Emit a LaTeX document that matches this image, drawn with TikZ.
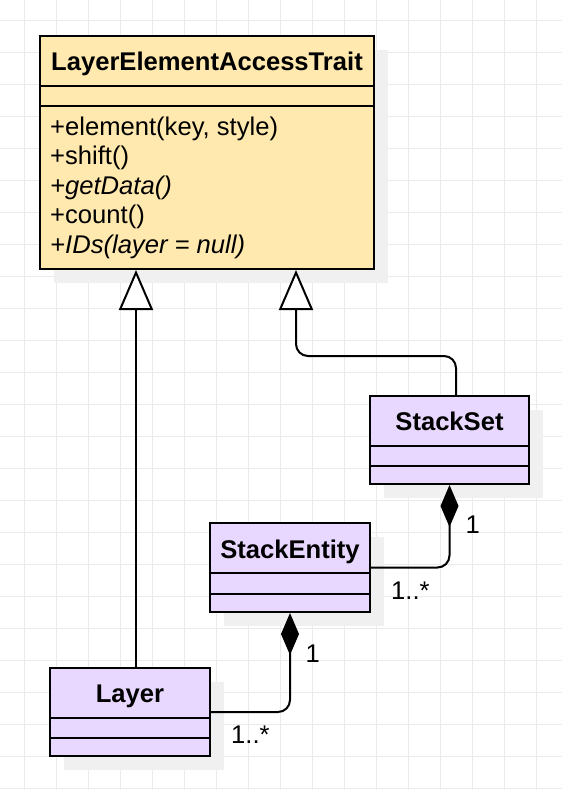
\documentclass[tikz,border=0pt]{standalone}
\usepackage{fontspec}
\setmainfont{Liberation Sans}
\usetikzlibrary{arrows.meta,shadows}
\definecolor{traitfill}{HTML}{FFE9AE}
\definecolor{classfill}{HTML}{E8D8FF}
\definecolor{shadowc}{HTML}{F0F0F0}
\definecolor{gridc}{HTML}{EBEBEB}
\begin{document}
\begin{tikzpicture}[x=1pt,y=-1pt,
  classbox/.style={draw=black, line width=2pt, inner sep=0pt,
    general shadow={fill=shadowc, shadow xshift=14pt, shadow yshift=-14pt}},
  divider/.style={line width=2pt},
  titletext/.style={font=\fontsize{25.6}{29.6}\selectfont\bfseries, inner sep=0pt, anchor=base},
  member/.style={font=\fontsize{25.6}{29.6}\selectfont, inner sep=0pt, anchor=base west},
  mult/.style={font=\fontsize{25.6}{29.6}\selectfont, inner sep=0pt, anchor=base west},
  gen/.style={line width=2pt, -{Triangle[length=40pt, width=34pt, fill=white]}},
  comp/.style={line width=2pt, {Diamond[length=42pt, width=18pt]}-, rounded corners=12pt},
]
\useasboundingbox (0,0) rectangle (562,790);
\fill[white] (0,0) rectangle (562,790);
\foreach \gx in {24.3,56.3,...,560} \draw[gridc, line width=1pt] (\gx,0) -- (\gx,790);
\foreach \gy in {20,52,...,790} \draw[gridc, line width=1pt] (0,\gy) -- (562,\gy);

% class boxes
\node[classbox, fill=traitfill, minimum width=334pt, minimum height=233pt] (trait) at (207,152.5) {};
\node[classbox, fill=classfill, minimum width=159pt, minimum height=88pt] (stackset) at (449.5,440) {};
\node[classbox, fill=classfill, minimum width=160pt, minimum height=89pt] (stackentity) at (290,567.5) {};
\node[classbox, fill=classfill, minimum width=160pt, minimum height=88pt] (layer) at (130,712) {};

% compartments
\draw[divider] (trait.west |- 0,86) -- (trait.east |- 0,86);
\draw[divider] (trait.west |- 0,106) -- (trait.east |- 0,106);
\draw[divider] (stackset.west |- 0,446) -- (stackset.east |- 0,446);
\draw[divider] (stackset.west |- 0,466) -- (stackset.east |- 0,466);
\draw[divider] (stackentity.west |- 0,573) -- (stackentity.east |- 0,573);
\draw[divider] (stackentity.west |- 0,594) -- (stackentity.east |- 0,594);
\draw[divider] (layer.west |- 0,718) -- (layer.east |- 0,718);
\draw[divider] (layer.west |- 0,738) -- (layer.east |- 0,738);

% titles
\node[titletext] (traitname) at (207,70) {LayerElementAccessTrait};
\node[titletext] (stacksetname) at (449.5,430) {StackSet};
\node[titletext] (stackentityname) at (290,558) {StackEntity};
\node[titletext] (layername) at (130,702) {Layer};

% members
\node[member] (op1) at (50,135) {+element(key, style)};
\node[member] (op2) at (50,164.6) {+shift()};
\node[member] (op3) at (50,194.2) {\itshape +getData()};
\node[member] (op4) at (50,223.8) {+count()};
\node[member] (op5) at (50,253.3) {\itshape +IDs(layer = null)};

% generalizations
\draw[gen] (layer.north -| 136,0) -- (trait.south -| 136,0);
\draw[gen, rounded corners=12pt] (stackset.north -| 456,0) -- (456,356) -- (296,356) -- (trait.south -| 296,0);

% compositions
\draw[comp] (stackset.south) |- (stackentity.east);
\draw[comp] (stackentity.south) |- (layer.east);

% multiplicities
\node[mult] (mult1) at (465.5,533) {1};
\node[mult] (mult2) at (391,599) {1..*};
\node[mult] (mult3) at (305.5,662) {1};
\node[mult] (mult4) at (231,743) {1..*};
\end{tikzpicture}
\end{document}
